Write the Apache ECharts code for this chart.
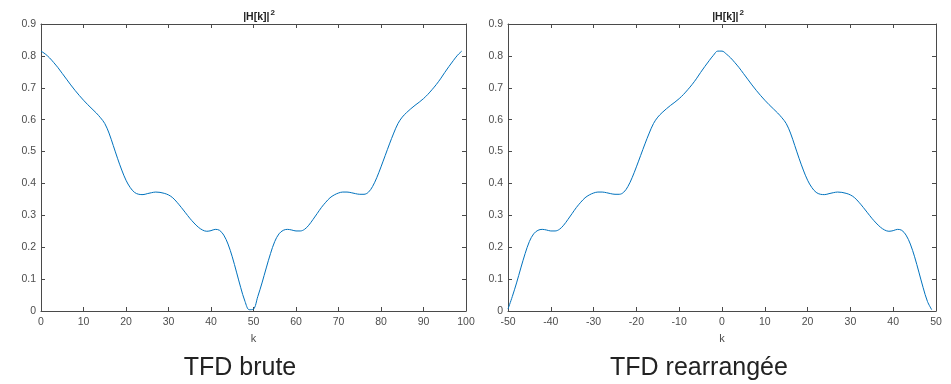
<!DOCTYPE html>
<html>
<head>
<meta charset="utf-8">
<script src="https://cdn.jsdelivr.net/npm/echarts@6/dist/echarts.min.js"></script>
<style>html,body{margin:0;padding:0;background:#fff}#c{width:951px;height:384px}</style>
</head>
<body>
<div id="c"></div>
<script>
// |H[k]|^2 for k = 0..99 (raw DFT order)
const H2 = [
  0.815,0.806,0.794,0.779,0.763,0.745,0.727,0.709,0.692,0.676,
  0.661,0.647,0.634,0.621,0.606,0.588,0.558,0.519,0.479,0.442,
  0.410,0.387,0.372,0.366,0.365,0.368,0.371,0.373,0.372,0.369,
  0.364,0.355,0.341,0.325,0.308,0.291,0.276,0.263,0.254,0.250,
  0.252,0.256,0.253,0.238,0.210,0.170,0.122,0.073,0.030,0.004,
  0.006,0.045,0.088,0.135,0.180,0.218,0.242,0.253,0.256,0.254,
  0.251,0.251,0.256,0.269,0.287,0.306,0.325,0.341,0.355,0.364,
  0.370,0.373,0.373,0.371,0.368,0.366,0.366,0.372,0.390,0.418,
  0.452,0.488,0.524,0.558,0.588,0.608,0.622,0.634,0.645,0.655,
  0.666,0.679,0.694,0.710,0.728,0.748,0.767,0.785,0.802,0.815
];
const kRaw = Array.from({length: 100}, (_, i) => i);          // 0..99
const kShift = Array.from({length: 100}, (_, i) => i - 50);   // -50..49
const titleBase = '|H[k]|';
const titleExp = '2';
const xName = 'k';
const captions = ['TFD brute', 'TFD rearrangée'];

const rawData = kRaw.map((k, i) => [k, H2[i]]);
const shiftData = kShift.map(k => [k, H2[(k + 100) % 100]]);

const axisColor = '#4a4a4a';
const labelColor = '#4d4d4d';
const font = 'Liberation Sans, Arial, Helvetica, sans-serif';

function xAx(grid, min, max, top) {
  return {
    type: 'value', gridIndex: grid, min: min, max: max, interval: 10,
    position: top ? 'top' : 'bottom',
    name: top ? '' : xName, nameLocation: 'middle', nameGap: 22,
    nameTextStyle: {color: labelColor, fontSize: 11, fontFamily: font},
    axisLine: {show: true, onZero: false, lineStyle: {color: axisColor, width: 1}},
    axisTick: {show: true, inside: true, length: 4, lineStyle: {color: axisColor}},
    axisLabel: {show: !top, color: labelColor, fontSize: 10.5, fontFamily: font, margin: 6},
    splitLine: {show: false}
  };
}
function yAx(grid, right) {
  return {
    type: 'value', gridIndex: grid, min: 0, max: 0.9, interval: 0.1,
    position: right ? 'right' : 'left',
    axisLine: {show: true, onZero: false, lineStyle: {color: axisColor, width: 1}},
    axisTick: {show: true, inside: true, length: 4, lineStyle: {color: axisColor}},
    axisLabel: {show: !right, color: labelColor, fontSize: 10.5, fontFamily: font, margin: 5,
      formatter: v => (Math.round(v * 10) / 10).toString()},
    splitLine: {show: false}
  };
}
const titleRich = {
  b: {fontSize: 10.5, fontWeight: 'bold', color: '#222', fontFamily: font, verticalAlign: 'bottom'},
  s: {fontSize: 8, fontWeight: 'bold', color: '#222', fontFamily: font, verticalAlign: 'top', padding: [0, 0, 6, 1]}
};
function plotTitle(cx) {
  return {text: '{b|' + titleBase + '}{s|' + titleExp + '}', left: cx, top: 4, textAlign: 'center',
    textStyle: {rich: titleRich}};
}

const chart = echarts.init(document.getElementById('c'), null, {renderer: 'canvas'});
chart.setOption({
  animation: false,
  backgroundColor: '#fff',
  title: [
    plotTitle(254),
    plotTitle(723),
    {text: captions[0], left: 235, top: 351, textAlign: 'center',
      textStyle: {fontSize: 25, fontWeight: 'normal', color: '#222', fontFamily: font}},
    {text: captions[1], left: 694, top: 351, textAlign: 'center',
      textStyle: {fontSize: 25, fontWeight: 'normal', color: '#222', fontFamily: font}}
  ],
  grid: [
    {left: 41, top: 24, width: 425, height: 287},
    {left: 508, top: 24, width: 428, height: 287}
  ],
  xAxis: [xAx(0, 0, 100, false), xAx(0, 0, 100, true), xAx(1, -50, 50, false), xAx(1, -50, 50, true)],
  yAxis: [yAx(0, false), yAx(0, true), yAx(1, false), yAx(1, true)],
  series: [
    {type: 'line', xAxisIndex: 0, yAxisIndex: 0, data: rawData, showSymbol: false, smooth: 0.35,
      lineStyle: {color: '#0072BD', width: 1}},
    {type: 'line', xAxisIndex: 2, yAxisIndex: 2, data: shiftData, showSymbol: false, smooth: 0.35,
      lineStyle: {color: '#0072BD', width: 1}}
  ]
});
</script>
</body>
</html>
